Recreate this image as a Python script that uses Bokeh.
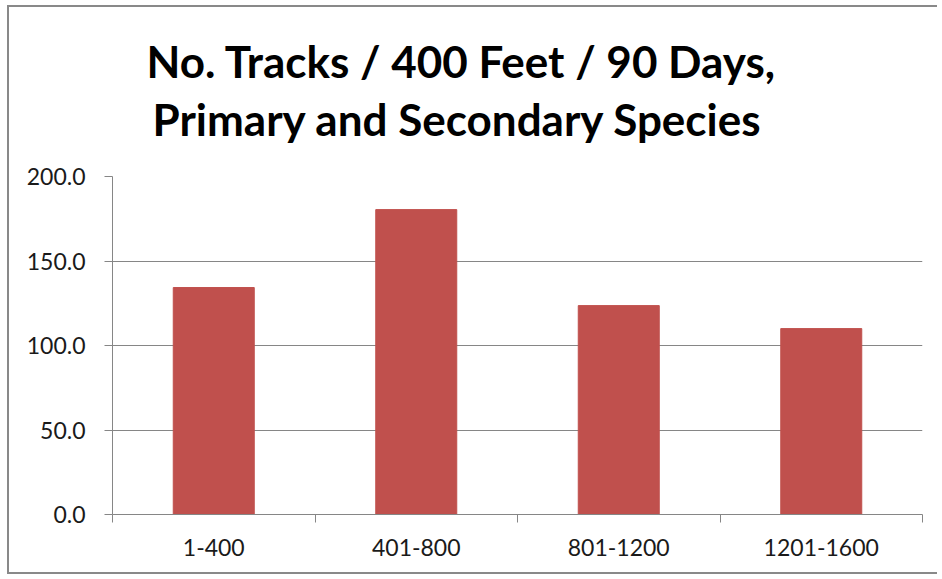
from bokeh.plotting import figure
from bokeh.models import Range1d, FixedTicker, NumeralTickFormatter, Title, ColumnDataSource
from bokeh.embed import file_html
from bokeh.resources import INLINE

categories = ["1-400", "401-800", "801-1200", "1201-1600"]
values = [134.3, 180.4, 123.6, 110.0]
y_ticks = [0, 50, 100, 150, 200]
title_lines = ["No. Tracks / 400 Feet / 90 Days,", "Primary and Secondary Species"]

positions = [i + 0.5 for i in range(len(categories))]
boundaries = list(range(len(categories) + 1))

src = ColumnDataSource(dict(x=positions, top=values, cat=categories))

GRAY = "#868686"
BAR = "#C0504D"
FONT = "Lato"

p = figure(width=933, height=569, output_backend="svg", toolbar_location=None,
           title_location=None,
           x_range=Range1d(0, len(categories)), y_range=Range1d(0, 200),
           min_border_left=103, min_border_right=20, min_border_top=169, min_border_bottom=62)
p.styles = {"border-left": "2px solid #898989", "border-top": "2px solid #898989",
            "border-bottom": "2px solid #898989", "border-right": "none",
            "clip-path": "inset(0px 3px 0px 0px)",
            "margin-left": "7px", "margin-top": "5px"}
p.outline_line_color = None
p.background_fill_color = "white"
p.border_fill_color = "white"

p.vbar(x="x", top="top", width=0.4, bottom=0, source=src,
       fill_color=BAR, line_color=BAR, line_width=1)

# x axis: labels at category centres, tick marks at category boundaries
xa = p.xaxis[0]
xa.ticker = FixedTicker(ticks=positions, minor_ticks=boundaries)
xa.major_label_overrides = {pos: cat for pos, cat in zip(positions, categories)}
xa.major_tick_out = 0
xa.major_tick_in = 0
xa.minor_tick_out = 8
xa.minor_tick_in = 0
xa.minor_tick_line_color = GRAY
xa.axis_line_color = GRAY
xa.major_label_text_font = FONT
xa.major_label_text_font_size = "23px"
xa.major_label_text_color = "#1a1a1a"
xa.major_label_standoff = 16

ya = p.yaxis[0]
ya.ticker = FixedTicker(ticks=y_ticks)
ya.formatter = NumeralTickFormatter(format="0.0")
ya.major_tick_out = 8
ya.major_tick_in = 0
ya.minor_tick_line_color = None
ya.major_tick_line_color = GRAY
ya.axis_line_color = GRAY
ya.major_label_text_font = FONT
ya.major_label_text_font_size = "23px"
ya.major_label_text_color = "#1a1a1a"
ya.major_label_standoff = 19

p.xgrid.visible = False
p.ygrid.ticker = FixedTicker(ticks=y_ticks)
p.ygrid.grid_line_color = GRAY
p.ygrid.grid_line_width = 1

# title lines: the first added sits nearest the plot
for txt, off, so in [(title_lines[1], 40, 64), (title_lines[0], 34, -56)]:
    p.add_layout(Title(text=txt, align="left", offset=off, standoff=so,
                       text_font=FONT, text_font_size="44px", text_font_style="bold",
                       text_color="black"), "above")

open("out.html", "w").write(file_html(p, INLINE))
